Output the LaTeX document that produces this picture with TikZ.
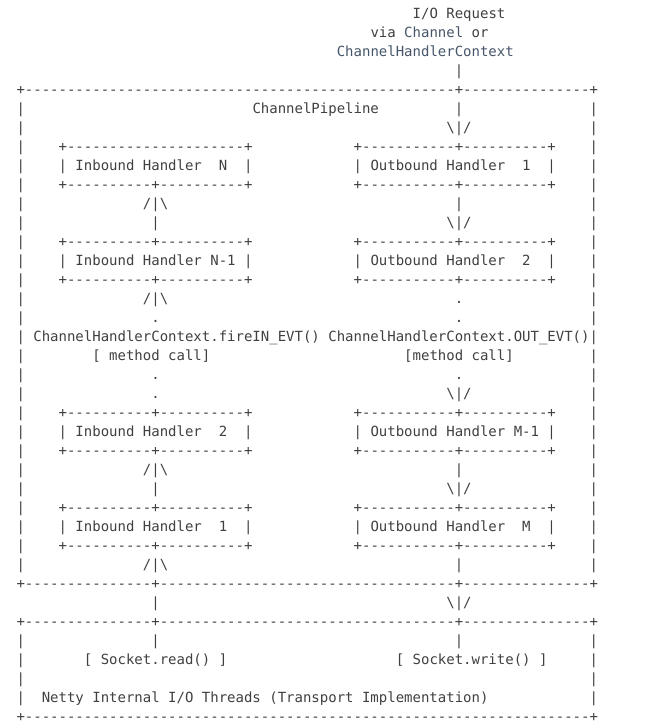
\documentclass[tikz,border=0pt]{standalone}
\usepackage{fontspec}
\setmonofont{DejaVu Sans Mono}
\usepackage{xcolor}
\definecolor{ink}{HTML}{404040}
\definecolor{lnk}{HTML}{46566A}
\newcommand\Blk[1]{\kern#1\fontcharwd\font`\+\relax}
\ExplSyntaxOn
\NewDocumentCommand\Dsh{m}{\prg_replicate:nn{#1}{-}}
\ExplSyntaxOff
\newcommand\BS{\textbackslash}
\newcommand\EdgeRow{|\Blk{4}+\Dsh{10}+\Dsh{10}+\Blk{12}+\Dsh{11}+\Dsh{10}+\Blk{4}|}
\newcommand\UpRow{|\Blk{14}/|\BS\Blk{34}|\Blk{15}|}
\newcommand\DownRow{|\Blk{15}|\Blk{34}\BS|/\Blk{14}|}
\newcommand\DotRow{|\Blk{15}.\Blk{35}.\Blk{15}|}
\tikzset{
  ln/.style={anchor=base west, inner sep=0pt, outer sep=0pt, text=ink,
    font=\ttfamily\fontsize{14}{19}\selectfont\frenchspacing}
}
\begin{document}
\begin{tikzpicture}[x=1pt,y=-1pt]
\fill[white] (0,0) rectangle (647,726);
\useasboundingbox (0,0) rectangle (647,726);
\node[ln] (r0) at ({16.5+8.4287*47},{18.5+19*0}) {I/O Request};
\node[ln] (r1) at ({16.5+8.4287*42},{18.5+19*1}) {via \textcolor{lnk}{Channel} or};
\node[ln] (r2) at ({16.5+8.4287*38},{18.5+19*2}) {\textcolor{lnk}{ChannelHandlerContext}};
\node[ln] (r3) at ({16.5+8.4287*52},{18.5+19*3}) {|};
\node[ln] (r4) at (16.5,{18.5+19*4}) {+\Dsh{51}+\Dsh{15}+};
\node[ln] (r5) at (16.5,{18.5+19*5}) {|\Blk{27}ChannelPipeline\Blk{9}|\Blk{15}|};
\node[ln] (r6) at (16.5,{18.5+19*6}) {|\Blk{50}\BS|/\Blk{14}|};
\node[ln] (r7) at (16.5,{18.5+19*7}) {|\Blk{4}+\Dsh{21}+\Blk{12}+\Dsh{11}+\Dsh{10}+\Blk{4}|};
\node[ln] (r8) at (16.5,{18.5+19*8}) {|\Blk{4}| Inbound Handler\Blk{2}N\Blk{2}|\Blk{12}| Outbound Handler\Blk{2}1\Blk{2}|\Blk{4}|};
\node[ln] (r9) at (16.5,{18.5+19*9}) {\EdgeRow};
\node[ln] (r10) at (16.5,{18.5+19*10}) {\UpRow};
\node[ln] (r11) at (16.5,{18.5+19*11}) {\DownRow};
\node[ln] (r12) at (16.5,{18.5+19*12}) {\EdgeRow};
\node[ln] (r13) at (16.5,{18.5+19*13}) {|\Blk{4}| Inbound Handler N-1 |\Blk{12}| Outbound Handler\Blk{2}2\Blk{2}|\Blk{4}|};
\node[ln] (r14) at (16.5,{18.5+19*14}) {\EdgeRow};
\node[ln] (r15) at (16.5,{18.5+19*15}) {|\Blk{14}/|\BS\Blk{34}.\Blk{15}|};
\node[ln] (r16) at (16.5,{18.5+19*16}) {\DotRow};
\node[ln] (r17) at (16.5,{18.5+19*17}) {| ChannelHandlerContext.fireIN\_EVT() ChannelHandlerContext.OUT\_EVT()|};
\node[ln] (r18) at (16.5,{18.5+19*18}) {|\Blk{8}[ method call]\Blk{23}[method call]\Blk{9}|};
\node[ln] (r19) at (16.5,{18.5+19*19}) {\DotRow};
\node[ln] (r20) at (16.5,{18.5+19*20}) {|\Blk{15}.\Blk{34}\BS|/\Blk{14}|};
\node[ln] (r21) at (16.5,{18.5+19*21}) {\EdgeRow};
\node[ln] (r22) at (16.5,{18.5+19*22}) {|\Blk{4}| Inbound Handler\Blk{2}2\Blk{2}|\Blk{12}| Outbound Handler M-1 |\Blk{4}|};
\node[ln] (r23) at (16.5,{18.5+19*23}) {\EdgeRow};
\node[ln] (r24) at (16.5,{18.5+19*24}) {\UpRow};
\node[ln] (r25) at (16.5,{18.5+19*25}) {\DownRow};
\node[ln] (r26) at (16.5,{18.5+19*26}) {\EdgeRow};
\node[ln] (r27) at (16.5,{18.5+19*27}) {|\Blk{4}| Inbound Handler\Blk{2}1\Blk{2}|\Blk{12}| Outbound Handler\Blk{2}M\Blk{2}|\Blk{4}|};
\node[ln] (r28) at (16.5,{18.5+19*28}) {\EdgeRow};
\node[ln] (r29) at (16.5,{18.5+19*29}) {\UpRow};
\node[ln] (r30) at (16.5,{18.5+19*30}) {+\Dsh{15}+\Dsh{35}+\Dsh{15}+};
\node[ln] (r31) at ({16.5+8.4287*16},{18.5+19*31}) {|\Blk{34}\BS|/};
\node[ln] (r32) at (16.5,{18.5+19*32}) {+\Dsh{15}+\Dsh{35}+\Dsh{15}+};
\node[ln] (r33) at (16.5,{18.5+19*33}) {|\Blk{15}|\Blk{35}|\Blk{15}|};
\node[ln] (r34) at (16.5,{18.5+19*34}) {|\Blk{7}[ Socket.read() ]\Blk{20}[ Socket.write() ]\Blk{5}|};
\node[ln] (r35) at (16.5,{18.5+19*35}) {|\Blk{67}|};
\node[ln] (r36) at (16.5,{18.5+19*36}) {|\Blk{2}Netty Internal I/O Threads (Transport Implementation)\Blk{12}|};
\node[ln] (r37) at (16.5,{18.5+19*37}) {+\Dsh{67}+};
\end{tikzpicture}
\end{document}
